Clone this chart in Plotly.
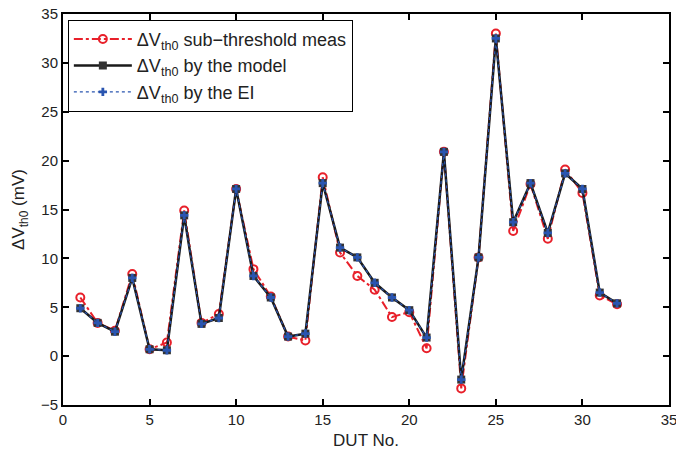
import plotly.graph_objects as go

dut = list(range(1, 33))
meas = [6.0, 3.4, 2.6, 8.4, 0.7, 1.4, 14.9, 3.4, 4.3, 17.1, 8.9, 6.1, 2.0, 1.6, 18.3, 10.6,
        8.2, 6.8, 4.0, 4.5, 0.8, 20.9, -3.3, 10.1, 33.0, 12.8, 17.6, 12.0, 19.1, 16.7, 6.2, 5.3]
model = [4.9, 3.4, 2.5, 8.0, 0.7, 0.6, 14.4, 3.3, 3.9, 17.1, 8.2, 6.0, 2.0, 2.3, 17.7, 11.1,
         10.1, 7.5, 6.0, 4.7, 1.9, 20.9, -2.4, 10.1, 32.5, 13.7, 17.7, 12.6, 18.7, 17.1, 6.5, 5.4]
ei = [4.9, 3.4, 2.5, 8.0, 0.7, 0.6, 14.4, 3.3, 3.9, 17.1, 8.2, 6.0, 2.0, 2.3, 17.7, 11.1,
      10.1, 7.5, 6.0, 4.7, 1.9, 20.9, -2.4, 10.1, 32.5, 13.7, 17.7, 12.6, 18.7, 17.1, 6.5, 5.4]
x_ticks = [0, 5, 10, 15, 20, 25, 30, 35]
y_ticks = [-5, 0, 5, 10, 15, 20, 25, 30, 35]

FONT = "Liberation Sans, Arial, sans-serif"

fig = go.Figure()
fig.add_trace(go.Scatter(
    x=dut, y=meas, mode="lines+markers",
    name="ΔV<sub>th0</sub> sub−threshold meas",
    line=dict(color="#e8202a", width=2, dash="dashdot"),
    marker=dict(symbol="circle-open", size=8, color="#e8202a", line=dict(width=2, color="#e8202a")),
))
fig.add_trace(go.Scatter(
    x=dut, y=model, mode="lines+markers",
    name="ΔV<sub>th0</sub> by the model",
    line=dict(color="#1a1a1a", width=2.5),
    marker=dict(symbol="square", size=8, color="#333333", line=dict(width=0)),
))
fig.add_trace(go.Scatter(
    x=dut, y=ei, mode="lines+markers",
    name="ΔV<sub>th0</sub> by the EI",
    line=dict(color="#2a55b0", width=1.2, dash="dot"),
    marker=dict(symbol="cross", size=7, color="#2a55b0", line=dict(width=0)),
))

axis_common = dict(
    showgrid=False, zeroline=False, showline=True, linecolor="black", linewidth=2,
    mirror="ticks", ticks="inside", ticklen=6, tickwidth=2, tickcolor="black",
    tickfont=dict(family=FONT, size=15, color="#222"), ticklabeloverflow="allow",
)
fig.update_xaxes(range=[0, 35], tickvals=x_ticks, automargin=False,
                 title=dict(text="DUT No.", standoff=8,
                            font=dict(family=FONT, size=17, color="#222")),
                 **axis_common)
fig.update_yaxes(range=[-5, 35], tickvals=y_ticks, automargin=False,
                 title=dict(text="ΔV<sub>th0</sub> (mV)", standoff=12,
                            font=dict(family=FONT, size=17, color="#222")),
                 **axis_common)

fig.update_layout(
    width=676, height=450,
    margin=dict(l=63, r=7, t=14, b=45),
    plot_bgcolor="white", paper_bgcolor="white",
    font=dict(family=FONT, size=14, color="#222"),
    legend=dict(x=0.008, y=0.985, xanchor="left", yanchor="top",
                bordercolor="black", borderwidth=1, bgcolor="white",
                font=dict(family=FONT, size=18, color="#222"), tracegroupgap=0,
                itemwidth=58),
)

fig.write_html("out.html", config={"displayModeBar": False},
               post_script="document.body.style.margin='0';document.body.style.overflow='hidden';")
